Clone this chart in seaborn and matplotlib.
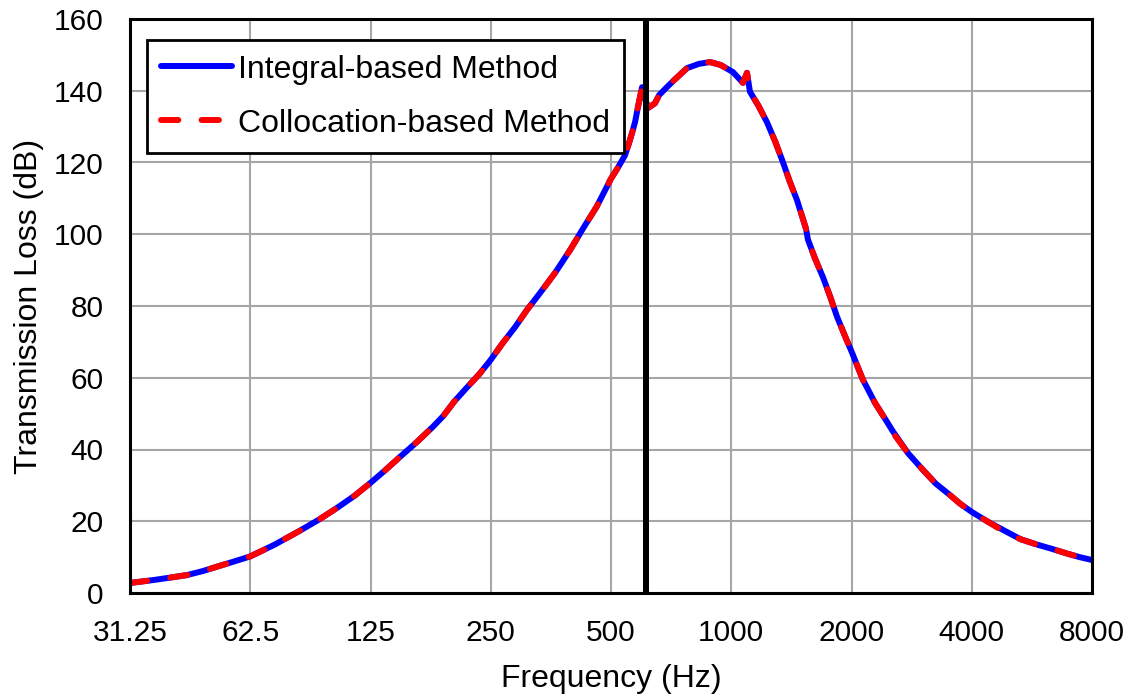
import matplotlib
matplotlib.use("Agg")
import matplotlib.pyplot as plt
import seaborn as sns
import pandas as pd

# Frequency samples (Hz) and transmission loss (dB) for both solution methods
FREQ_HZ = [31.25, 35.7, 40, 43.4, 47.5, 52.5, 57, 62.5, 72, 83.3, 93, 103, 114,
           125, 136, 148, 163, 179, 190, 203, 218, 234, 250, 268, 288, 308, 332,
           362, 395, 425, 461, 500, 520, 542, 555, 567, 575, 584, 590, 598, 608,
           619, 644, 660, 690, 720, 775, 830, 885, 940, 1010, 1070, 1095, 1114,
           1170, 1229, 1290, 1348, 1400, 1461, 1539, 1556, 1620, 1697, 1770,
           1840, 1920, 2006, 2070, 2137, 2290, 2454, 2541, 2769, 3020, 3250,
           3528, 3750, 4000, 4400, 4900, 5300, 5826, 6350, 6925, 7450, 8000]
TL_INTEGRAL = [2.8, 3.6, 4.4, 5.0, 6.1, 7.6, 8.8, 10.2, 13.5, 17.4, 20.5, 23.7, 27.1,
               30.7, 34.2, 37.9, 42.0, 46.3, 49.3, 53.5, 57.3, 61.0, 65.0, 69.7, 74.2,
               78.9, 83.6, 89.2, 95.6, 101.5, 107.8, 115.5, 118.5, 122.0, 125.5,
               129.0, 131.5, 135.5, 137.8, 141.0, 138.0, 135.2, 136.5, 138.8,
               141.0, 143.0, 146.3, 147.5, 148.0, 147.2, 145.2, 142.2, 145.0,
               139.7, 135.8, 131.2, 125.7, 120.0, 114.8, 109.5, 101.5, 98.5, 93.3,
               88.0, 82.5, 77.0, 72.0, 67.0, 63.2, 59.4, 53.0, 47.7, 45.0, 39.0,
               34.3, 30.5, 27.3, 24.8, 22.6, 19.8, 17.0, 15.0, 13.5, 12.3, 11.0,
               10.0, 9.2]
TL_COLLOCATION = [2.8, 3.6, 4.4, 5.0, 6.1, 7.6, 8.8, 10.2, 13.5, 17.4, 20.5, 23.7, 27.1,
                  30.7, 34.2, 37.9, 42.0, 46.3, 49.3, 53.5, 57.3, 61.0, 65.0, 69.7, 74.2,
                  78.9, 83.6, 89.2, 95.6, 101.5, 107.8, 115.5, 118.5, 122.0, 125.5,
                  129.0, 131.5, 135.5, 137.8, 141.0, 138.0, 135.2, 136.5, 138.8,
                  141.0, 143.0, 146.3, 147.5, 148.0, 147.2, 145.2, 142.2, 145.0,
                  139.7, 135.8, 131.2, 125.7, 120.0, 114.8, 109.5, 101.5, 98.5, 93.3,
                  88.0, 82.5, 77.0, 72.0, 67.0, 63.2, 59.4, 53.0, 47.7, 44.6, 39.0,
                  34.3, 30.5, 27.3, 24.8, 22.6, 19.8, 16.6, 15.0, 13.5, 12.3, 11.0,
                  10.0, 9.2]
SERIES_NAMES = ["Integral-based Method", "Collocation-based Method"]
SERIES_COLORS = ["#0000FF", "#FF0000"]
X_TICKS = [31.25, 62.5, 125, 250, 500, 1000, 2000, 4000, 8000]
X_TICK_LABELS = ["31.25", "62.5", "125", "250", "500", "1000", "2000", "4000", "8000"]
Y_TICKS = [0, 20, 40, 60, 80, 100, 120, 140, 160]
MARKER_FREQ_HZ = 612

df = pd.concat([
    pd.DataFrame({"Frequency": FREQ_HZ, "TL": TL_INTEGRAL, "Method": SERIES_NAMES[0]}),
    pd.DataFrame({"Frequency": FREQ_HZ, "TL": TL_COLLOCATION, "Method": SERIES_NAMES[1]}),
], ignore_index=True)

sns.set_theme(style="white")
plt.rcParams["font.family"] = ["Liberation Sans", "DejaVu Sans"]
plt.rcParams["text.color"] = "black"
plt.rcParams["axes.labelcolor"] = "black"
plt.rcParams["xtick.color"] = "black"
plt.rcParams["ytick.color"] = "black"

fig = plt.figure(figsize=(11.36, 6.96), dpi=100)
ax = fig.add_axes([130 / 1136, 1 - 593 / 696, 962 / 1136, 574 / 696])

LINE_W = 4.3
sns.lineplot(
    data=df, x="Frequency", y="TL", hue="Method", style="Method",
    palette=dict(zip(SERIES_NAMES, SERIES_COLORS)),
    dashes={SERIES_NAMES[0]: "", SERIES_NAMES[1]: (2.9, 3.9)},
    hue_order=SERIES_NAMES, style_order=SERIES_NAMES,
    lw=LINE_W, sort=False, estimator=None, ax=ax,
    dash_capstyle="round", solid_capstyle="round",
    solid_joinstyle="round", dash_joinstyle="round", zorder=2,
)

ax.axvline(MARKER_FREQ_HZ, color="black", lw=4.3, zorder=3)

ax.set_xscale("log", base=2)
ax.set_xlim(X_TICKS[0], X_TICKS[-1])
ax.set_xticks(X_TICKS)
ax.set_xticklabels(X_TICK_LABELS)
ax.minorticks_off()
ax.set_ylim(0, 160)
ax.set_yticks(Y_TICKS)

ax.grid(True, color="#A6A6A6", lw=1.5)
ax.set_axisbelow(True)
for side in ["left", "right", "top", "bottom"]:
    ax.spines[side].set_visible(True)
    ax.spines[side].set_color("black")
    ax.spines[side].set_linewidth(2.2)
    ax.spines[side].set_zorder(4)

ax.tick_params(axis="both", length=0, labelsize=21.5, colors="black")
ax.tick_params(axis="x", pad=19)
ax.tick_params(axis="y", pad=19)
ax.set_xlabel("Frequency (Hz)", fontsize=23, labelpad=12, color="black")
ax.set_ylabel("Transmission Loss (dB)", fontsize=23, labelpad=7, color="black")

handles, labels = ax.get_legend_handles_labels()
for h in handles:
    h.set_linewidth(LINE_W)
    h.set_dash_capstyle("round")
    h.set_solid_capstyle("round")
leg = ax.legend(
    handles, labels, loc="upper left", bbox_to_anchor=(0.0177, 0.963),
    borderaxespad=0, fontsize=23, handlelength=2.2, handletextpad=0.2,
    labelspacing=0.75, borderpad=0.45, fancybox=False, framealpha=1,
    edgecolor="black",
)
leg.get_frame().set_linewidth(2.0)
leg.set_zorder(5)
for t in leg.get_texts():
    t.set_color("black")

fig.savefig("out.png", dpi=100)
